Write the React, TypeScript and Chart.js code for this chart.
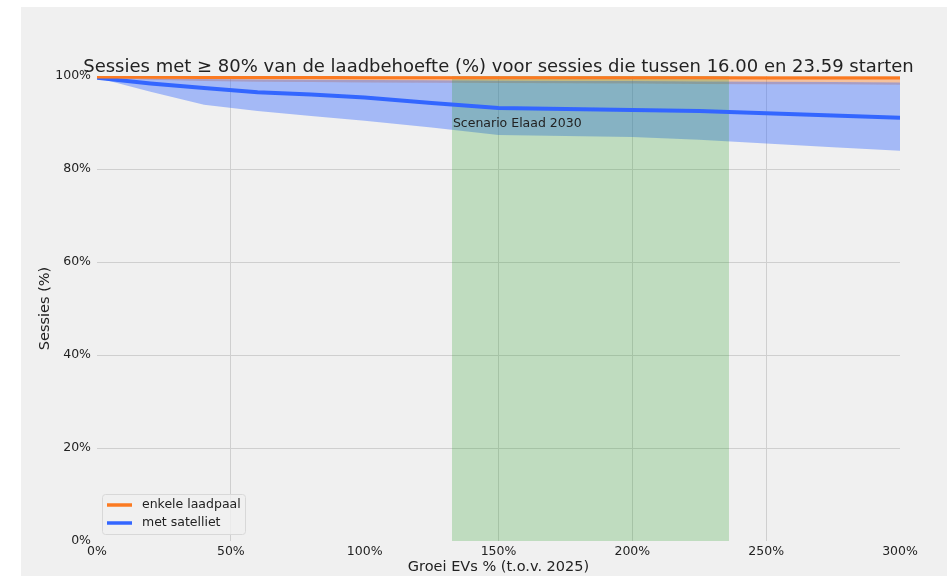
import React, { useEffect, useRef } from 'react';
import { Chart, registerables } from 'chart.js';

Chart.register(...registerables);

// ---- data ----
const growthPct = [0, 20, 40, 60, 80, 100, 125, 150, 175, 200, 225, 250, 275, 300];
const singleMean = [99.8, 99.75, 99.7, 99.7, 99.7, 99.65, 99.65, 99.6, 99.6, 99.6, 99.6, 99.55, 99.55, 99.55];
const singleHigh = [100, 100, 100, 100, 100, 100, 100, 100, 100, 100, 100, 100, 100, 100];
const singleLow = [99.6, 99.2, 98.9, 98.75, 98.7, 98.6, 98.55, 98.5, 98.45, 98.4, 98.3, 98.25, 98.2, 98.1];
const satMean = [99.6, 98.4, 97.4, 96.5, 96.0, 95.4, 94.2, 93.1, 92.9, 92.7, 92.45, 92.0, 91.5, 91.0];
const satHigh = [99.6, 99.5, 99.35, 99.27, 99.2, 99.15, 99.1, 99.0, 98.95, 98.9, 98.8, 98.75, 98.7, 98.6];
const satLow = [99.6, 96.6, 93.8, 92.5, 91.4, 90.4, 88.9, 87.3, 87.1, 86.9, 86.3, 85.5, 84.7, 83.9];
const scenarioRange = [132.6, 236.1];
const scenarioLabel = 'Scenario Elaad 2030';
const scenarioLabelY = 89.0;
const xTicks = [0, 50, 100, 150, 200, 250, 300];
const yTicks = [0, 20, 40, 60, 80, 100];
const seriesNames = ['enkele laadpaal', 'met satelliet'];
const titleText = 'Sessies met \u2265 80% van de laadbehoefte (%) voor sessies die tussen 16.00 en 23.59 starten';
const xTitle = 'Groei EVs % (t.o.v. 2025)';
const yTitle = 'Sessies (%)';

const ORANGE = '#fb7a21';
const BLUE = '#3366ff';
const FONT = "'DejaVu Sans', sans-serif";
const TEXT = '#222222';

const pts = (ys: number[]) => growthPct.map((x, i) => ({ x, y: ys[i] }));

export default function App() {
  const ref = useRef<HTMLCanvasElement | null>(null);

  useEffect(() => {
    if (!ref.current) return;

    const overlay = {
      id: 'overlay',
      afterDraw(chart: any) {
        const { ctx, scales, chartArea } = chart;
        ctx.save();
        // title
        ctx.fillStyle = TEXT;
        ctx.font = `18px ${FONT}`;
        ctx.textAlign = 'center';
        ctx.textBaseline = 'alphabetic';
        ctx.fillText(titleText, (chartArea.left + chartArea.right) / 2, 64.7);
        // scenario label
        ctx.font = `12.5px ${FONT}`;
        ctx.textAlign = 'left';
        ctx.fillText(scenarioLabel, scales.x.getPixelForValue(scenarioRange[0]) + 1, scales.y.getPixelForValue(scenarioLabelY));
        // legend
        const bx = chartArea.left + 5;
        const by = chartArea.bottom - 47;
        const bw = 143;
        const bh = 40;
        ctx.beginPath();
        ctx.roundRect(bx + 0.5, by + 0.5, bw, bh, 3);
        ctx.fillStyle = 'rgba(240,240,240,0.8)';
        ctx.fill();
        ctx.strokeStyle = '#d8d8d8';
        ctx.lineWidth = 1;
        ctx.stroke();
        const colors = [ORANGE, BLUE];
        seriesNames.forEach((name, i) => {
          const y = by + 11 + i * 18;
          ctx.beginPath();
          ctx.strokeStyle = colors[i];
          ctx.lineWidth = 3.5;
          ctx.moveTo(bx + 5, y);
          ctx.lineTo(bx + 30, y);
          ctx.stroke();
          ctx.fillStyle = TEXT;
          ctx.font = `12.5px ${FONT}`;
          ctx.textBaseline = 'middle';
          ctx.fillText(name, bx + 40, y);
        });
        ctx.restore();
      },
    };

    const hideEdge = (ctx: any) => {
      const v = ctx.tick ? ctx.tick.value : null;
      return v === 0 || v === 100 || v === 300 ? 'rgba(0,0,0,0)' : '#cfcfcf';
    };

    const chart = new Chart(ref.current, {
      type: 'line',
      data: {
        datasets: [
          {
            label: seriesNames[0],
            data: pts(singleMean),
            borderColor: ORANGE,
            borderWidth: 3,
            pointRadius: 0,
            fill: false,
            order: 0,
          },
          {
            label: seriesNames[1],
            data: pts(satMean),
            borderColor: BLUE,
            borderWidth: 4,
            pointRadius: 0,
            fill: false,
            order: 1,
          },
          {
            label: scenarioLabel,
            data: [
              { x: scenarioRange[0], y: 100 },
              { x: scenarioRange[1], y: 100 },
            ],
            borderWidth: 0,
            borderColor: 'rgba(0,0,0,0)',
            backgroundColor: 'rgba(44,160,44,0.25)',
            pointRadius: 0,
            fill: 'origin',
            order: 2,
          },
          {
            label: 'sat high',
            data: pts(satHigh),
            borderWidth: 0,
            borderColor: 'rgba(0,0,0,0)',
            backgroundColor: 'rgba(51,102,255,0.4)',
            pointRadius: 0,
            fill: 4,
            order: 3,
          },
          {
            label: 'sat low',
            data: pts(satLow),
            borderWidth: 0,
            borderColor: 'rgba(0,0,0,0)',
            pointRadius: 0,
            fill: false,
            order: 4,
          },
          {
            label: 'single high',
            data: pts(singleHigh),
            borderWidth: 0,
            borderColor: 'rgba(0,0,0,0)',
            backgroundColor: 'rgba(251,122,33,0.4)',
            pointRadius: 0,
            fill: 6,
            order: 5,
          },
          {
            label: 'single low',
            data: pts(singleLow),
            borderWidth: 0,
            borderColor: 'rgba(0,0,0,0)',
            pointRadius: 0,
            fill: false,
            order: 6,
          },
        ],
      },
      options: {
        animation: false,
        responsive: false,
        events: [],
        layout: { padding: { top: 69, right: 47, left: 0, bottom: 0 } },
        plugins: {
          legend: { display: false },
          title: { display: false },
          tooltip: { enabled: false },
        },
        scales: {
          x: {
            type: 'linear',
            min: 0,
            max: 300,
            afterBuildTicks: (s: any) => {
              s.ticks = xTicks.map((v) => ({ value: v }));
            },
            afterFit: (s: any) => {
              s.height = 35;
            },
            border: { display: false },
            grid: { color: hideEdge, drawTicks: false, lineWidth: 1 },
            ticks: {
              padding: 3,
              color: TEXT,
              font: { family: FONT, size: 12.5 },
              maxRotation: 0,
              callback: (v: any) => `${v}%`,
            },
            title: {
              display: true,
              text: xTitle,
              color: TEXT,
              font: { family: FONT, size: 14.5 },
              padding: { top: 0, bottom: 0 },
            },
          },
          y: {
            type: 'linear',
            min: 0,
            max: 100,
            afterBuildTicks: (s: any) => {
              s.ticks = yTicks.map((v) => ({ value: v }));
            },
            afterFit: (s: any) => {
              s.width = 76;
            },
            border: { display: false },
            grid: { color: hideEdge, drawTicks: false, lineWidth: 1 },
            ticks: {
              padding: 6,
              color: TEXT,
              font: { family: FONT, size: 12.5 },
              callback: (v: any) => `${v}%`,
            },
            title: {
              display: true,
              text: yTitle,
              color: TEXT,
              font: { family: FONT, size: 14.5 },
              padding: { top: 16, bottom: 0 },
            },
          },
        },
      },
      plugins: [overlay],
    } as any);

    return () => chart.destroy();
  }, []);

  return (
    <div
      style={{
        position: 'absolute',
        left: 21,
        top: 7,
        width: 926,
        height: 569,
        background: '#f0f0f0',
      }}
    >
      <canvas ref={ref} width={926} height={569} style={{ display: 'block', width: 926, height: 569 }} />
    </div>
  );
}
